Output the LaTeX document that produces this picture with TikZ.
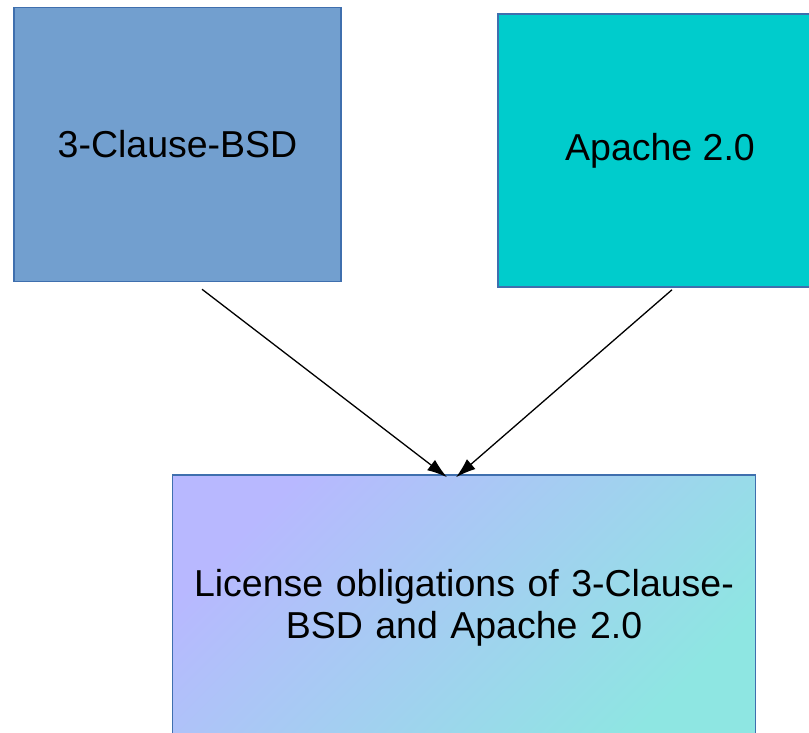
\documentclass[tikz,border=0pt]{standalone}
\usepackage{fontspec}
\setmainfont{Liberation Sans}
\usetikzlibrary{arrows.meta,calc}
\definecolor{bsdfill}{HTML}{729FCF}
\definecolor{apfill}{HTML}{00CCCC}
\definecolor{boxline}{HTML}{3F6FAE}
\definecolor{gradA}{HTML}{B8B8FF}
\definecolor{gradB}{HTML}{8EE6E2}
\tikzset{
  licbox/.style={draw=boxline, line width=1.5pt, inner sep=0pt, align=center,
    font=\fontsize{37.5}{42}\selectfont},
  conn/.style={line width=1.3pt, -{Latex[length=20pt,width=13pt]}}
}
\begin{document}
\begin{tikzpicture}[x=1pt,y=-1pt]
\useasboundingbox (0,0) rectangle (809,733);
\node[licbox, fill=bsdfill, minimum width=327pt, minimum height=274pt] (a) at (177.5,144.5) {3-Clause-BSD};
\node[licbox, fill=apfill, minimum width=324pt, minimum height=273pt] (b) at (660,150.5) {Apache 2.0};
\node[licbox, top color=gradA, bottom color=gradB, shading angle=45, text width=570pt, minimum width=583pt, minimum height=266pt] (c) at (464,608) {License obligations of 3-Clause-\\BSD and Apache 2.0};
\coordinate (a1) at ($(a.south)+(24.5,7)$);
\coordinate (b1) at ($(b.south)+(12,2)$);
\coordinate (c1) at ($(c.north)+(-17,3)$);
\coordinate (c2) at ($(c.north)+(-8,3)$);
\draw[conn] (a1) -- (c1);
\draw[conn] (b1) -- (c2);
\end{tikzpicture}
\end{document}
